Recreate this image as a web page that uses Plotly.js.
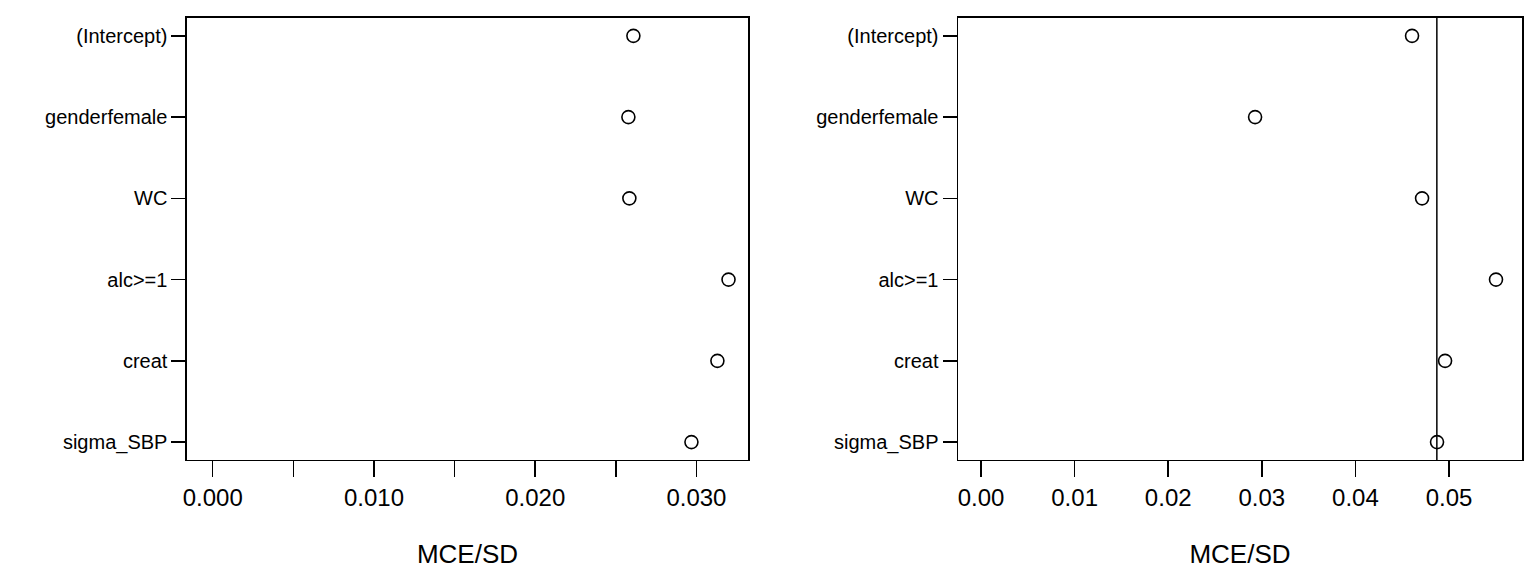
<!DOCTYPE html>
<html>
<head>
<script src="https://cdn.plot.ly/plotly-3.0.1.min.js"></script>
<style>body{margin:0}</style>
</head>
<body>
<div id="myDiv" style="width:1536px;height:576px"></div>
<script>
var labels = ['(Intercept)', 'genderfemale', 'WC', 'alc>=1', 'creat', 'sigma_SBP'];
var rows = [0, 1, 2, 3, 4, 5];
var mceLeft = [0.02609, 0.02578, 0.02584, 0.03199, 0.0313, 0.02969];
var mceRight = [0.04605, 0.02928, 0.04712, 0.05502, 0.04958, 0.04872];
var refLine = 0.0487;

var marker = {symbol: 'circle-open', size: 13, color: 'black', line: {width: 1.6, color: 'black'}};

var data = [
    {x: mceLeft, y: rows, type: 'scatter', mode: 'markers', marker: marker, xaxis: 'x', yaxis: 'y', hoverinfo: 'x'},
    {x: mceRight, y: rows, type: 'scatter', mode: 'markers', marker: marker, xaxis: 'x2', yaxis: 'y2', hoverinfo: 'x'}
];

function yax(anchor) {
    return {
        domain: [0.2014, 0.9688], anchor: anchor,
        range: [5.22, -0.22], tickmode: 'array', tickvals: rows, ticktext: labels,
        ticks: 'outside', ticklen: 14, tickwidth: 1.5, tickcolor: 'black',
        showline: true, mirror: true, linecolor: 'black', linewidth: 1.5,
        showgrid: false, zeroline: false,
        tickfont: {size: 20, color: 'black'}
    };
}

function xax(domain, range, dtick, fmt, anchor) {
    return {
        domain: domain, anchor: anchor, range: range, dtick: dtick, tick0: 0, tickformat: fmt,
        ticks: 'outside', ticklen: 16, tickwidth: 1.5, tickcolor: 'black',
        showline: true, mirror: true, linecolor: 'black', linewidth: 1.5,
        showgrid: false, zeroline: false,
        tickfont: {size: 24, color: 'black'},
        title: {text: 'MCE/SD', font: {size: 26, color: 'black'}, standoff: 34}
    };
}

var xa = xax([0.1217, 0.487], [-0.0016, 0.0332], 0.01, '.3f', 'y');
xa.minor = {dtick: 0.005, ticks: 'outside', ticklen: 16, tickwidth: 1.5, tickcolor: 'black', showgrid: false};

var layout = {
    width: 1536, height: 576,
    margin: {l: 0, r: 0, t: 0, b: 0},
    showlegend: false,
    paper_bgcolor: 'white', plot_bgcolor: 'white',
    font: {family: 'Liberation Sans, Arial, sans-serif', color: 'black'},
    xaxis: xa,
    yaxis: yax('x'),
    xaxis2: xax([0.6237, 0.9909], [-0.00246, 0.0578], 0.01, '.2f', 'y2'),
    yaxis2: yax('x2'),
    shapes: [{type: 'line', xref: 'x2', yref: 'y2 domain', x0: refLine, x1: refLine, y0: 0, y1: 1,
              line: {color: 'black', width: 1.5}}]
};

Plotly.newPlot('myDiv', data, layout, {staticPlot: true});
</script>
</body>
</html>
